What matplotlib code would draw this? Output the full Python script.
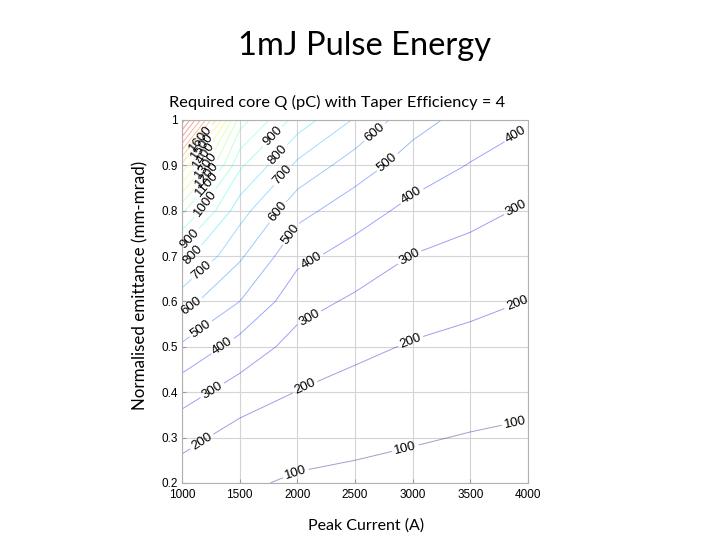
import numpy as np
import matplotlib
matplotlib.use("Agg")
import matplotlib.pyplot as plt

# peak current (A) and normalised emittance (mm-mrad) grid
current = [1000, 1500, 2000, 2500, 3000, 3500, 4000]
emittance = [0.2, 0.3, 0.4, 0.5, 0.6, 0.7, 0.8, 0.9, 1.0]

# required core charge Q (pC), one list per current column
q_1000 = [140, 234, 339, 484, 639, 840, 1120, 1570, 2250]
q_1500 = [116, 158, 256, 362, 500, 615, 740, 920, 1150]
q_2000 = [86, 142, 197, 263, 338, 426, 532, 677, 855]
q_2500 = [77, 123, 169, 221, 284, 360, 445, 549, 690]
q_3000 = [67, 108, 150, 192, 243, 297, 372, 453, 538]
q_3500 = [54, 95, 135, 175, 220, 270, 327, 395, 462]
q_4000 = [48, 85, 123, 160, 198, 243, 289, 348, 411]

levels = list(range(100, 2300, 100))

x_ticks = [1000, 1500, 2000, 2500, 3000, 3500, 4000]
y_ticks = [0.2, 0.3, 0.4, 0.5, 0.6, 0.7, 0.8, 0.9, 1.0]
y_ticklabels = ["0.2", "0.3", "0.4", "0.5", "0.6", "0.7", "0.8", "0.9", "1"]

Q = np.array([q_1000, q_1500, q_2000, q_2500, q_3000, q_3500, q_4000]).T
X, Y = np.meshgrid(current, emittance)

fig = plt.figure(figsize=(7.2, 5.4), dpi=100)
fig.text(0.507, 0.915, "1mJ Pulse Energy", ha="center", va="center",
         fontsize=23.5, family="Lato")
fig.text(0.468, 0.811, "Required core Q (pC) with Taper Efficiency = 4",
         ha="center", va="center", fontsize=11.8, family="Lato")

ax = fig.add_axes([0.2528, 0.1056, 0.4806, 0.6722])

# where each level gets its labels (layout only)
label_spots = {
    100: [(1997, 0.215), (2934, 0.28), (3890, 0.33)],
    200: [(1180, 0.288), (2049, 0.42), (2977, 0.515), (3890, 0.605)],
    300: [(1260, 0.405), (2093, 0.568), (2977, 0.696), (3890, 0.81)],
    400: [(1345, 0.504), (2127, 0.687), (2977, 0.838), (3890, 0.97)],
    500: [(1170, 0.537), (1937, 0.75), (2760, 0.912)],
    600: [(1080, 0.59), (1867, 0.79), (2656, 0.978)],
    700: [(1182, 0.666), (1890, 0.875)],
    800: [(1124, 0.695), (1867, 0.915)],
    900: [(1110, 0.728), (1820, 0.955)],
    1000: [(1240, 0.81)],
    1100: [(1225, 0.857)],
    1200: [(1217, 0.879)],
    1300: [(1208, 0.9)],
    1400: [(1208, 0.919)],
    1500: [(1200, 0.937)],
    1600: [(1182, 0.955)],
}

cmap = plt.get_cmap("jet")
norm = plt.Normalize(100, 2200)
for lv in levels:
    cs = ax.contour(X, Y, Q, levels=[lv], colors=[cmap(norm(lv))],
                    linewidths=0.7, alpha=0.38)
    if lv in label_spots:
        lbls = ax.clabel(cs, manual=label_spots[lv], inline=True,
                         fontsize=9.5, fmt="%d", colors="black",
                         inline_spacing=1)
        for t in lbls:
            t.set_family("Liberation Sans")
            t.set_alpha(1.0)
            t.set_color("black")
            t.set_clip_on(False)

ax.set_xlim(1000, 4000)
ax.set_ylim(0.2, 1.0)
ax.set_xticks(x_ticks)
ax.set_yticks(y_ticks)
ax.set_yticklabels(y_ticklabels)
ax.grid(True, color="#d4d4d4", linewidth=0.8)
ax.set_axisbelow(True)
ax.tick_params(direction="in", length=3, labelsize=8.5, color="#9a9a9a")
ax.tick_params(axis="x", pad=4.5)
ax.tick_params(axis="y", pad=3)
for lab in ax.get_xticklabels() + ax.get_yticklabels():
    lab.set_family("Liberation Sans")
for s in ax.spines.values():
    s.set_color("#b0b0b0")
    s.set_linewidth(0.8)

ax.set_xlabel("Peak Current (A)", fontsize=11.5, family="Lato")
ax.xaxis.set_label_coords(0.532, -0.097)
ax.set_ylabel("Normalised emittance (mm-mrad)", fontsize=12.2, family="Lato")
ax.yaxis.set_label_coords(-0.098, 0.545)

fig.savefig("out.png", dpi=100)
